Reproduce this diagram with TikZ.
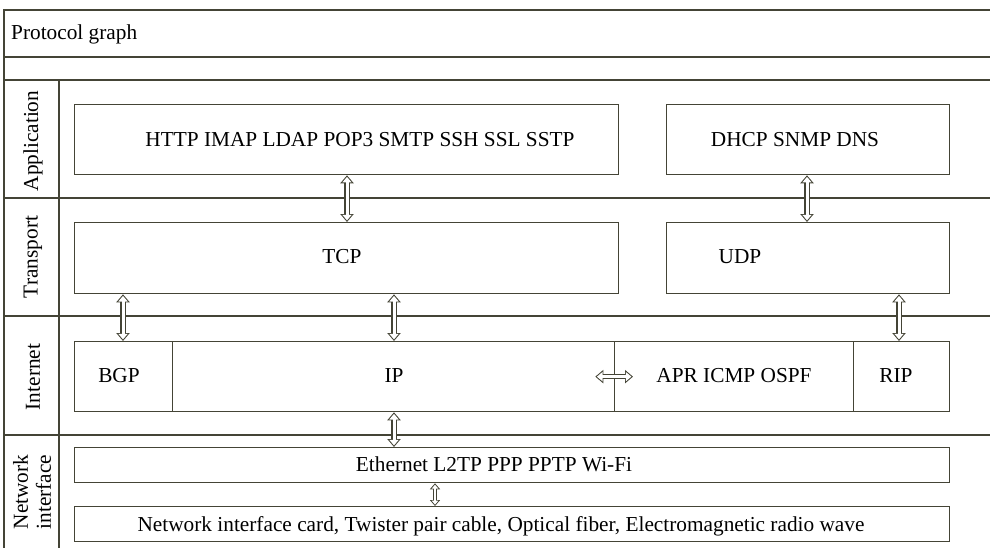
\documentclass[tikz,border=0pt]{standalone}
\usepackage{fontspec}
\setmainfont{Liberation Serif}
\usetikzlibrary{arrows.meta,calc}
\definecolor{ln}{HTML}{444436}
\begin{document}
\begin{tikzpicture}[x=1pt,y=-1pt,
  box/.style={draw=ln, line width=1.3pt, inner sep=0pt, anchor=north west},
  txt/.style={font=\fontsize{21.3}{24}\selectfont, inner sep=0pt, anchor=base},
  rowlab/.style={font=\fontsize{21.3}{23}\selectfont, inner sep=0pt, rotate=90, align=center},
  frame/.style={draw=ln, line width=1.4pt},
  dar/.style={draw=ln, line width=5.4pt,
    {Triangle[length=8pt,width=13pt]}-{Triangle[length=8pt,width=13pt]},
    postaction={draw=white, line width=3pt, shorten >=1.6pt, shorten <=1.6pt,
    {Triangle[length=5.6pt,width=9pt]}-{Triangle[length=5.6pt,width=9pt]}}},
  sdar/.style={draw=ln, line width=4.4pt,
    {Triangle[length=6pt,width=10pt]}-{Triangle[length=6pt,width=10pt]},
    postaction={draw=white, line width=2.2pt, shorten >=1.4pt, shorten <=1.4pt,
    {Triangle[length=4pt,width=6.4pt]}-{Triangle[length=4pt,width=6.4pt]}}}]
\useasboundingbox (0,0) rectangle (990,548);
\fill[white] (0,0) rectangle (990,548);
% frame
\draw[frame] (990,10) -- (4,10) -- (4,548);
\foreach \yy in {57,80,198,316,435} {\draw[frame] (4,\yy) -- (990,\yy);}
\draw[frame] (59,80) -- (59,548);
\node[txt, anchor=base west] (tpg) at (11,40) {Protocol graph};
% row labels
\node[rowlab] (lapp) at (33,141) {Application};
\node[rowlab] (ltra) at (33,257) {Transport};
\node[rowlab] (lint) at (33,377) {Internet};
\node[rowlab] (lnet) at (32,492) {Network\\interface};
% boxes
\node[box, minimum width=544pt, minimum height=70pt] (app1) at (74,104) {};
\node[box, minimum width=283pt, minimum height=70pt] (dhcp) at (666,104) {};
\node[box, minimum width=544pt, minimum height=71pt] (tcp) at (74,222) {};
\node[box, minimum width=283pt, minimum height=71pt] (udp) at (666,222) {};
\node[box, minimum width=98pt, minimum height=70pt] (bgp) at (74,341) {};
\node[box, minimum width=442pt, minimum height=70pt] (ip) at (172,341) {};
\node[box, minimum width=239pt, minimum height=70pt] (apr) at (614,341) {};
\node[box, minimum width=96pt, minimum height=70pt] (rip) at (853,341) {};
\node[box, minimum width=875pt, minimum height=35pt] (eth) at (74,447) {};
\node[box, minimum width=875pt, minimum height=35pt] (phy) at (74,506) {};
% texts
\node[txt] (tapp) at (360,146.5) {HTTP IMAP LDAP POP3 SMTP SSH SSL SSTP};
\node[txt] (tdhcp) at (795,146.5) {DHCP SNMP DNS};
\node[txt] (ttcp) at (342,263) {TCP};
\node[txt] (tudp) at (740,263) {UDP};
\node[txt] (tbgp) at (119,382) {BGP};
\node[txt] (tip) at (394,382) {IP};
\node[txt] (tapr) at (734,382) {APR ICMP OSPF};
\node[txt] (trip) at (896,382) {RIP};
\node[txt] (teth) at (494,471) {Ethernet L2TP PPP PPTP Wi-Fi};
\node[txt] (tphy) at (501,531) {Network interface card, Twister pair cable, Optical fiber, Electromagnetic radio wave};
% arrows
\draw[dar] ([xshift=273pt]app1.south west) -- ([xshift=273pt]tcp.north west);
\draw[dar] ([xshift=141pt]dhcp.south west) -- ([xshift=141pt]udp.north west);
\draw[dar] ([xshift=49pt]tcp.south west) -- ([xshift=49pt]bgp.north west);
\draw[dar] ([xshift=320pt]tcp.south west) -- ([xshift=222pt]ip.north west);
\draw[dar] ([xshift=233pt]udp.south west) -- ([xshift=46pt]rip.north west);
\draw[dar] ([xshift=-20pt]ip.east) -- ([xshift=19pt]apr.west);
\draw[dar] ([xshift=222pt]ip.south west) -- ([xshift=320pt]eth.north west);
\draw[sdar] ([xshift=361pt]eth.south west) -- ([xshift=361pt]phy.north west);
\end{tikzpicture}
\end{document}
